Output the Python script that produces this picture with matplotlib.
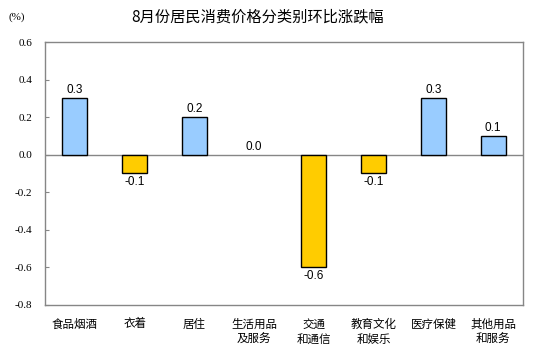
import matplotlib
matplotlib.use('Agg')
import matplotlib.pyplot as plt

plt.rcParams['font.family'] = ['Noto Sans CJK SC', 'DejaVu Sans']

# chart values
categories = ['食品烟酒', '衣着', '居住', '生活用品\n及服务', '交通\n和通信',
              '教育文化\n和娱乐', '医疗保健', '其他用品\n和服务']
values = [0.3, -0.1, 0.2, 0.0, -0.6, -0.1, 0.3, 0.1]
yticks = [0.6, 0.4, 0.2, 0.0, -0.2, -0.4, -0.6, -0.8]
title = '8月份居民消费价格分类别环比涨跌幅'

fig = plt.figure(figsize=(5.48, 3.5), dpi=100)
ax = fig.add_axes([45 / 548, 1 - 305 / 350, 478 / 548, 263 / 350])

colors = ['#99CCFF' if v > 0 else '#FFCC00' for v in values]
edges = ['black' if v != 0 else 'none' for v in values]
x = list(range(len(categories)))
ax.bar(x, values, width=0.42, color=colors, edgecolor=edges, linewidth=1.0, zorder=3)
ax.axhline(0, color='#868686', linewidth=1.0, zorder=2)

for xi, v in zip(x, values):
    if v < 0:
        ax.annotate(f'{v:.1f}', (xi, v), xytext=(0, -2), textcoords='offset points',
                    ha='center', va='top', fontsize=8.5, family='Liberation Sans')
    else:
        ax.annotate(f'{v:.1f}', (xi, v), xytext=(0, 1.5), textcoords='offset points',
                    ha='center', va='bottom', fontsize=8.5, family='Liberation Sans')

ax.set_xlim(-0.5, len(categories) - 0.5)
ax.set_ylim(-0.8, 0.6)
ax.set_yticks(yticks)
ax.set_yticklabels([f'{t:.1f}' for t in yticks], family='Liberation Serif', fontsize=8)
ax.tick_params(axis='y', direction='in', length=3, color='#868686', pad=9)
ax.set_xticks(x)
ax.set_xticklabels(categories, fontsize=8.3, linespacing=1.25)
ax.tick_params(axis='x', length=0, pad=9)

for s in ax.spines.values():
    s.set_color('#868686')
    s.set_linewidth(1.0)

fig.text(258 / 548, 1 - 17 / 350, title, ha='center', va='center', fontsize=11)
fig.text(17 / 548, 1 - 17 / 350, '(%)', ha='center', va='center', fontsize=8,
         family='Liberation Serif')

fig.savefig('out.png', dpi=100)
